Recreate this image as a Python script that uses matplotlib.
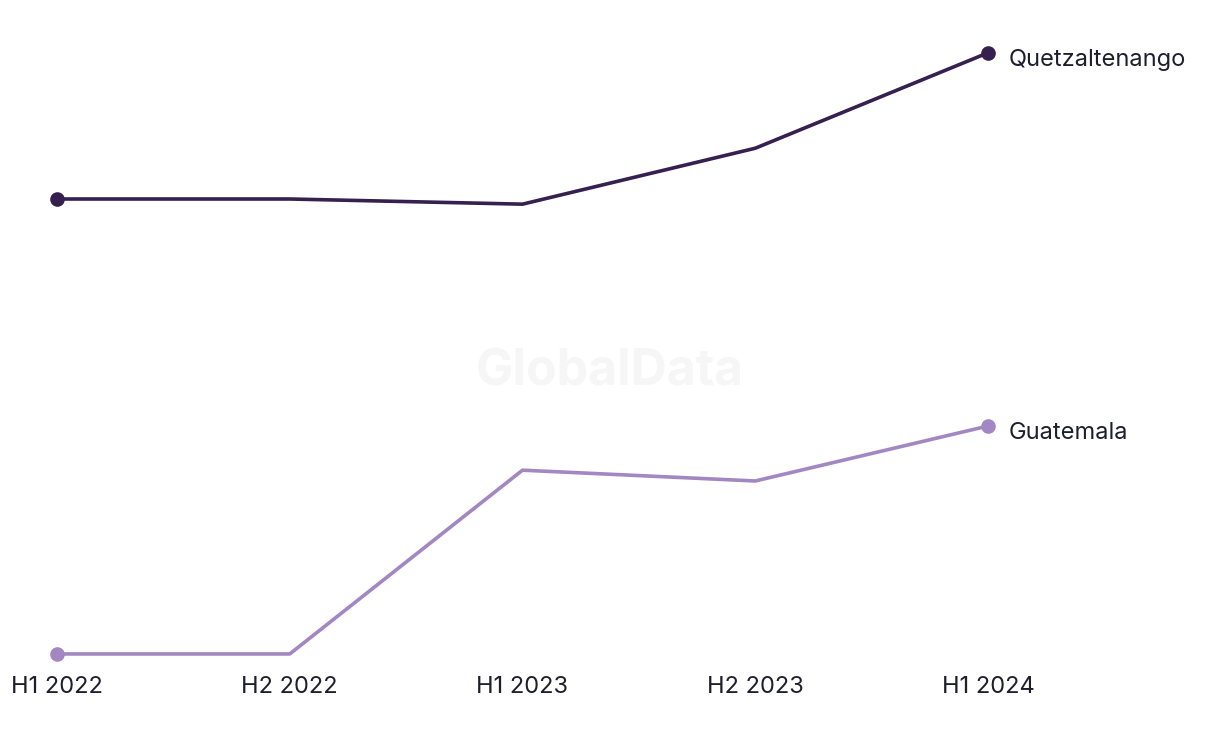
import matplotlib.pyplot as plt

periods = ['H1 2022', 'H2 2022', 'H1 2023', 'H2 2023', 'H1 2024']
quetzaltenango = [106.6, 106.6, 105.5, 117.4, 137.7]
guatemala = [9.8, 9.8, 48.9, 46.6, 58.3]

dark = '#35204f'
light = '#a287c2'
text_col = '#1e1e2e'
plt.rcParams['font.family'] = ['Inter', 'DejaVu Sans']

fig = plt.figure(figsize=(12.2, 7.44), dpi=100)
ax = fig.add_axes([0, 0, 1, 1])
x = list(range(len(periods)))

for vals, col, name in [(quetzaltenango, dark, 'Quetzaltenango'), (guatemala, light, 'Guatemala')]:
    ax.plot(x, vals, color=col, lw=2.6, solid_capstyle='round', zorder=3)
    ax.plot([x[0], x[-1]], [vals[0], vals[-1]], 'o', color=col, ms=9.5, zorder=4)
    ax.annotate(name, (x[-1], vals[-1]), xytext=(15, -5), textcoords='offset points',
                va='center', ha='left', fontsize=17, color=text_col)

# x labels (no axis line)
for i, p in enumerate(periods):
    ax.text(i, 0.077, p, transform=ax.get_xaxis_transform(), ha='center', va='center',
            fontsize=17, color=text_col)

ax.text(0.5, 0.5, 'GlobalData', transform=ax.transAxes, ha='center', va='center',
        fontsize=36, fontweight='bold', color='#f6f6f6', zorder=0)

ax.set_xlim(-0.2449, 4.9968)
ax.set_ylim(-9.36, 148.94)
ax.axis('off')

fig.savefig('out.png', dpi=100)
